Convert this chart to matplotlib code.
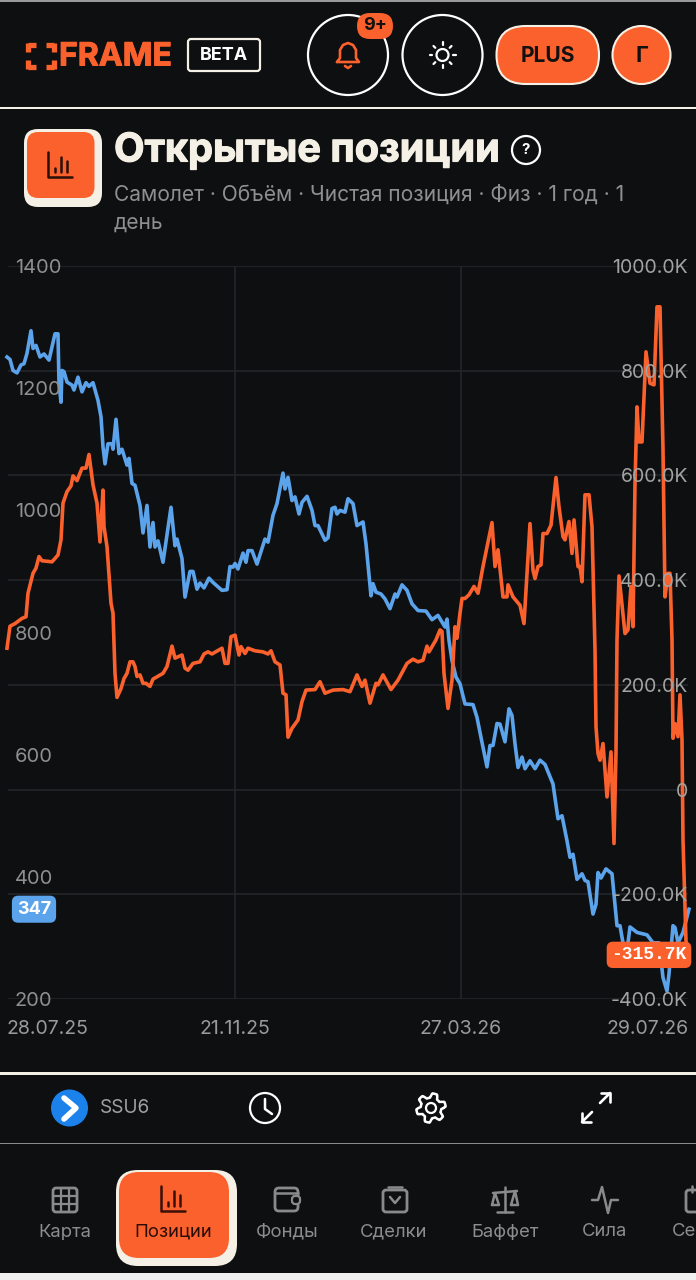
import matplotlib
matplotlib.use('Agg')
import matplotlib.pyplot as plt
import matplotlib.patheffects as pe
import numpy as np
from matplotlib.patches import Circle, FancyBboxPatch, Rectangle

BG = '#0e0f11'
ORANGE = '#fb612c'
BLUE = '#5ba3ea'
CREAM = '#f5f0e6'
GREY = '#8f8f8f'
GRID = '#26272a'

plt.rcParams['font.family'] = ['Inter', 'DejaVu Sans']

# session number, price (left scale)
price_x = [0, 3, 6, 10, 14, 17, 20, 24, 26, 29, 33, 37, 42, 48, 51, 52, 54, 55, 57, 60, 65, 67, 71, 75, 79, 82, 86, 91,
           94, 96, 98, 101, 105, 106, 109, 112, 115, 120, 122, 125, 128, 133, 136, 140, 143, 146, 148, 151, 156, 161,
           164, 168, 170, 175, 178, 183, 186, 190, 193, 197, 202, 206, 215, 220, 223, 226, 228, 231, 236, 239, 241,
           245, 250, 258, 261, 266, 270, 276, 278, 281, 285, 288, 292, 295, 300, 305, 308, 311, 318, 321, 325, 328,
           330, 333, 338, 341, 346, 350, 356, 359, 364, 366, 369, 374, 378, 383, 388, 390, 395, 400, 405, 411, 419,
           425, 431, 438, 440, 442, 445, 449, 453, 458, 466, 470, 475, 480, 483, 486, 490, 493, 498, 502, 505, 508,
           511, 515, 518, 523, 528, 533, 538, 542, 546, 551, 555, 560, 563, 566, 570, 575, 578, 581, 586, 589, 591,
           594, 599, 605, 610, 613, 616, 618, 621, 623, 630, 640, 646, 652, 656, 660, 662, 666, 668, 671, 676, 682]
price = [1251, 1247, 1229, 1225, 1238, 1240, 1257, 1294, 1265, 1270, 1251, 1256, 1246, 1289, 1289, 1207, 1177, 1229,
         1227, 1210, 1205, 1197, 1218, 1194, 1209, 1203, 1209, 1180, 1153, 1104, 1076, 1109, 1109, 1100, 1149, 1093,
         1100, 1074, 1085, 1044, 1041, 1008, 963, 1008, 940, 980, 940, 950, 915, 972, 1005, 942, 953, 921, 858, 900,
         900, 871, 881, 873, 889, 882, 869, 870, 908, 907, 913, 904, 930, 915, 934, 934, 912, 953, 948, 992, 1011,
         1061, 1035, 1054, 1016, 1022, 994, 1013, 1023, 1000, 975, 975, 951, 955, 1003, 1005, 994, 1000, 997, 1019,
         1011, 975, 981, 945, 860, 880, 866, 863, 855, 839, 863, 858, 878, 869, 847, 836, 835, 821, 828, 809, 822,
         787, 754, 727, 716, 683, 682, 661, 620, 580, 615, 615, 651, 650, 621, 675, 664, 618, 579, 596, 577, 590, 577,
         591, 584, 568, 552, 495, 500, 459, 432, 437, 396, 405, 394, 392, 339, 355, 407, 398, 413, 405, 320, 320, 292,
         273, 292, 318, 309, 305, 292, 292, 235, 213, 241, 320, 317, 292, 309, 347]

# session number, net position in thousands (right scale)
position_x = [0, 3, 8, 15, 19, 21, 26, 29, 32, 35, 45, 51, 54, 56, 60, 64, 66, 70, 75, 79, 82, 86, 90, 93, 96, 97, 100,
              104, 106, 108, 110, 114, 117, 120, 123, 126, 128, 130, 133, 136, 139, 143, 146, 156, 160, 165, 168, 175,
              178, 181, 186, 193, 197, 201, 205, 215, 218, 221, 224, 228, 232, 234, 238, 241, 248, 256, 261, 264, 268,
              273, 276, 279, 281, 285, 291, 295, 299, 308, 313, 318, 326, 336, 343, 350, 355, 358, 363, 369, 371, 376,
              384, 391, 400, 406, 411, 416, 420, 422, 429, 433, 435, 437, 441, 445, 448, 450, 453, 455, 458, 462, 467,
              471, 476, 485, 488, 491, 496, 500, 501, 506, 513, 517, 523, 526, 528, 531, 534, 536, 540, 544, 549, 552,
              556, 558, 562, 565, 567, 571, 573, 575, 578, 582, 585, 588, 589, 591, 593, 596, 600, 604, 607, 609, 610,
              612, 618, 621, 624, 626, 628, 630, 632, 635, 639, 643, 647, 650, 653, 656, 658, 661, 663, 665, 666, 668,
              671, 673, 675, 676, 678, 679, 682]
position = [270, 312, 317, 327, 330, 375, 413, 423, 445, 437, 435, 448, 477, 547, 569, 580, 599, 590, 614, 614, 640, 582,
            547, 473, 572, 502, 464, 356, 337, 222, 176, 193, 212, 222, 244, 244, 235, 216, 219, 203, 203, 197, 211, 222,
            235, 274, 251, 257, 232, 228, 241, 244, 259, 263, 259, 270, 241, 241, 292, 295, 257, 273, 260, 270, 265, 263,
            259, 265, 244, 238, 184, 181, 100, 117, 133, 168, 190, 191, 206, 184, 190, 191, 187, 219, 197, 209, 165, 203,
            200, 219, 191, 209, 241, 249, 244, 247, 274, 263, 286, 305, 302, 222, 155, 209, 311, 289, 337, 365, 365, 372,
            388, 375, 426, 510, 426, 458, 368, 368, 391, 368, 352, 317, 508, 419, 403, 426, 429, 489, 489, 505, 596, 540,
            483, 477, 512, 451, 515, 426, 426, 397, 563, 563, 502, 267, 120, 69, 56, 88, -14, 72, -103, 72, 286, 408, 298,
            305, 388, 311, 585, 731, 664, 664, 836, 776, 773, 922, 922, 649, 368, 413, 413, 286, 98, 126, 101, 181, 95,
            -96, -224, -290, -315.7]

price_ticks = [200, 400, 600, 800, 1000, 1200, 1400]
position_ticks = [-400, -200, 0, 200, 400, 600, 800, 1000]
position_labels = ['-400.0K', '-200.0K', '0', '200.0K', '400.0K', '600.0K', '800.0K', '1000.0K']
date_ticks = [-1, 228, 454, 682]
date_labels = ['28.07.25', '21.11.25', '27.03.26', '29.07.26']
last_price = 347
last_position = -315.7
nav_labels = ['Карта', 'Фонды', 'Сделки', 'Баффет', 'Сила']
nav_centers = [65, 287, 394, 505, 605]


def px(size):
    return size * 0.72


fig = plt.figure(figsize=(6.96, 12.8), dpi=100, facecolor=BG)
rect = [0, (1280 - 999) / 1280, 1, 733 / 1280]

# grid sits in its own axes, under both lines
ax_grid = fig.add_axes(rect, facecolor=BG)
ax_grid.set_xlim(-7, 689)
ax_grid.set_ylim(-400, 1000)
ax_grid.hlines(position_ticks, 1, 681, color=GRID, lw=1.1)
ax_grid.vlines(date_ticks[1:3], -400, 1000, color=GRID, lw=1.1)
ax_grid.set_yticks([])
ax_grid.set_xticks(date_ticks, date_labels, color='#9a9a9a', fontsize=px(19.5))
ax_grid.tick_params(axis='x', length=0, pad=15)
labels = ax_grid.get_xticklabels()
labels[0].set_ha('left')
labels[-1].set_ha('right')

ax = fig.add_axes(rect, facecolor='none')
ax.plot(price_x, price, color=BLUE, lw=2.6, solid_joinstyle='round')
ax.set_xlim(-7, 689)
ax.set_ylim(200, 1400)
ax.set_xticks([])
ax.set_yticks(price_ticks)
ax.set_axisbelow(False)
ax.tick_params(axis='y', length=0, direction='in', pad=-px(15), labelsize=px(20), labelcolor=GREY)
for t in ax.get_yticklabels():
    t.set_ha('left')

ax2 = ax.twinx()
ax2.plot(position_x, position, color=ORANGE, lw=2.6, solid_joinstyle='round')
ax2.set_ylim(-400, 1000)
ax2.set_yticks(position_ticks, position_labels)
ax2.set_axisbelow(False)
ax2.tick_params(axis='y', length=0, direction='in', pad=-px(8), labelsize=px(19.5), labelcolor='#a3a3a3')
for t in ax2.get_yticklabels():
    t.set_ha('right')

for a in (ax_grid, ax, ax2):
    for s in a.spines.values():
        s.set_visible(False)

# last value tags on each scale
ax.text(27, last_price, str(last_price), color='white', fontsize=px(18), fontweight='bold', ha='center',
        va='center', zorder=6, bbox=dict(boxstyle='round,pad=0.28,rounding_size=0.35', fc=BLUE, ec='none'))
ax2.text(642, last_position, '%.1fK' % last_position, color='white', fontsize=px(18), fontweight='bold',
         family='Liberation Mono', ha='center', va='center', zorder=6,
         bbox=dict(boxstyle='round,pad=0.26,rounding_size=0.35', fc=ORANGE, ec='none'))

# app chrome drawn in a pixel-sized overlay
ui = fig.add_axes([0, 0, 1, 1], facecolor='none')
ui.set_xlim(0, 696)
ui.set_ylim(1280, 0)
ui.axis('off')


def box(x0, y0, x1, y1, r, fc='none', ec='none', lw=0):
    ui.add_patch(FancyBboxPatch((x0 + r, y0 + r), x1 - x0 - 2 * r, y1 - y0 - 2 * r, boxstyle='round,pad=%g' % r,
                                fc=fc, ec=ec, lw=lw, mutation_aspect=1))


def ring(x, y, r, fc='none', ec='white', lw=1.6):
    ui.add_patch(Circle((x, y), r, fc=fc, ec=ec, lw=lw))


def stroke(xs, ys, color='white', lw=1.6):
    ui.plot(xs, ys, color=color, lw=lw, solid_capstyle='round', solid_joinstyle='round')


def label(x, y, s, size, color='white', weight='normal', ha='center', heavy=0, **kw):
    t = ui.text(x, y, s, fontsize=px(size), color=color, fontweight=weight, ha=ha, va='center', **kw)
    if heavy:
        t.set_path_effects([pe.withStroke(linewidth=heavy, foreground=color)])
    return t


def bars_icon(cx, cy, color):
    stroke([cx - 12, cx - 12, cx + 12], [cy - 13, cy + 12, cy + 12], color, 1.8)
    stroke([cx - 5, cx - 5], [cy + 7, cy + 3], color, 1.8)
    stroke([cx + 1, cx + 1], [cy + 7, cy - 8], color, 1.8)
    stroke([cx + 7, cx + 7], [cy + 7, cy - 4], color, 1.8)


# frame lines
ui.add_patch(Rectangle((0, 0), 696, 1.5, fc='#9a9a9a', ec='none'))
ui.add_patch(Rectangle((0, 107), 696, 2, fc=CREAM, ec='none'))
ui.add_patch(Rectangle((0, 1072), 696, 2.5, fc=CREAM, ec='none'))
ui.add_patch(Rectangle((0, 1142.5), 696, 1.5, fc='#8a8a8a', ec='none'))
ui.add_patch(Rectangle((0, 1273), 696, 7, fc='#f0f0f0', ec='none'))

# logo
for xa, xb, ya, yb in [(28, 36, 45, 45), (28, 28, 43, 52), (54, 46, 45, 45), (54, 54, 43, 52),
                       (28, 36, 67, 67), (28, 28, 69, 60), (54, 46, 67, 67), (54, 54, 69, 60)]:
    ui.plot([xa, xb], [ya, yb], color=ORANGE, lw=3.8, solid_capstyle='butt')
label(59, 57, 'FRAME', 32, ORANGE, 'bold', ha='left', heavy=0.7)
box(188, 39, 260, 71, 3, ec=CREAM, lw=1.6)
label(224, 56, 'BETA', 18, 'white', 'bold')

# bell
ring(348, 55, 40)
stroke([337, 340, 340, 343, 348, 353, 356, 356, 359, 337],
       [62, 58, 50, 45, 43, 45, 50, 58, 62, 62], ORANGE, 1.9)
stroke([345, 348, 351], [66, 68, 66], ORANGE, 1.9)
box(357, 13, 393, 39, 13, fc=ORANGE)
label(375, 26, '9+', 18, '#111111', 'bold')

# sun
ring(442.5, 55, 40)
ring(442.5, 55, 6, lw=1.6)
for dx, dy in [(0, -13), (0, 13), (-13, 0), (13, 0), (-9, -9), (9, -9), (-9, 9), (9, 9)]:
    stroke([442.5 + dx * 0.8, 442.5 + dx], [55 + dy * 0.8, 55 + dy], 'white', 1.6)

box(496.5, 26, 599, 84, 29, fc=ORANGE, ec=CREAM, lw=1.5)
label(548, 56, 'PLUS', 21, '#111111', 'bold')
ring(641.5, 55, 29, fc=ORANGE, ec=CREAM, lw=1.5)
label(641.5, 56, 'Г', 22, '#111111', 'bold')

# heading
box(24, 129, 102, 207, 14, fc=CREAM)
box(27, 132, 94.5, 198, 11, fc=ORANGE)
bars_icon(60, 165, '#2a0f08')
label(114, 151, 'Открытые позиции', 39.7, CREAM, 'bold', ha='left', heavy=0.8)
ring(526, 150, 14)
label(526, 150, '?', 15, 'white', 'bold')
label(114, 195, 'Самолет · Объём · Чистая позиция · Физ · 1 год · 1', 21, GREY, ha='left')
label(114, 223, 'день', 21, GREY, ha='left')

# toolbar
ring(69.5, 1108, 18.5, fc='#1a82ea', ec='none', lw=0)
stroke([64, 76, 64], [1098, 1108, 1119], 'white', 4)
label(100, 1108, 'SSU6', 19, '#a0a0a0', ha='left')
ring(265, 1108, 15)
stroke([265, 265, 272], [1099, 1109, 1114], 'white', 1.8)
ring(431, 1108, 5)
theta = np.linspace(0, 2 * np.pi, 181)
gear_r = 12.5 + 2.2 * np.clip(1.8 * np.cos(6 * theta + np.pi / 2), -1, 1)
stroke(431 + gear_r * np.cos(theta), 1108 + gear_r * np.sin(theta), 'white', 1.8)
stroke([582, 592], [1122, 1112], 'white', 1.9)
stroke([582, 582, 591], [1113, 1122, 1122], 'white', 1.9)
stroke([600, 610], [1103, 1093], 'white', 1.9)
stroke([601, 610, 610], [1093, 1093, 1102], 'white', 1.9)

# bottom navigation
box(116, 1170, 237, 1266, 22, fc=CREAM)
box(119, 1172, 229, 1258, 20, fc=ORANGE)
bars_icon(173, 1199, '#3a0f08')
label(173, 1232, 'Позиции', 18.5, '#2a0d06')
for s, x in zip(nav_labels, nav_centers):
    label(x, 1232, s, 18.5, '#8d8d8d')
label(672, 1232, 'Сезон', 18.5, '#8d8d8d', ha='left')
ico = '#8a8a8a'
# grid icon
box(53, 1188, 77, 1212, 3, ec=ico, lw=2)
stroke([61, 61], [1188, 1212], ico, 1.6)
stroke([69, 69], [1188, 1212], ico, 1.6)
stroke([53, 77], [1196, 1196], ico, 1.6)
stroke([53, 77], [1204, 1204], ico, 1.6)
# wallet icon
box(275, 1188, 298, 1211, 4, ec=ico, lw=2)
stroke([275, 298], [1193, 1193], ico, 1.8)
box(292, 1196, 300, 1204, 3, fc=BG, ec=ico, lw=1.6)
# bag icon
box(383, 1190, 407, 1212, 3, ec=ico, lw=2)
stroke([388, 402], [1187, 1187], ico, 1.8)
stroke([390, 395, 400], [1197, 1203, 1197], ico, 1.8)
# scales icon
stroke([505, 505], [1187, 1212], ico, 1.8)
stroke([497, 513], [1212, 1212], ico, 1.8)
stroke([493, 517], [1193, 1191], ico, 1.8)
stroke([492, 495, 499, 492], [1205, 1193, 1205, 1205], ico, 1.8)
stroke([511, 515, 518, 511], [1205, 1191, 1205, 1205], ico, 1.8)
# pulse icon
stroke([592, 598, 602, 608, 611, 618], [1200, 1200, 1187, 1213, 1200, 1200], ico, 1.8)
# calendar icon, runs off the edge
box(686, 1190, 712, 1212, 3, ec=ico, lw=2)
stroke([692, 692], [1186, 1192], ico, 1.8)

fig.savefig('out.png', dpi=100, facecolor=BG)
